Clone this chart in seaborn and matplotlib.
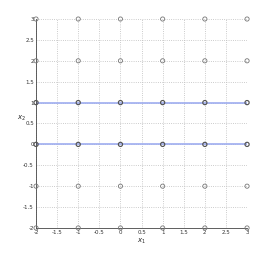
import numpy as np
import pandas as pd
import matplotlib
matplotlib.use("Agg")
import matplotlib.pyplot as plt
import seaborn as sns

# grid of sample points
x_vals = [-2, -1, 0, 1, 2, 3]
y_vals = [-2, -1, 0, 1, 2, 3]
# horizontal lines
line_levels = [0, 1]
line_x = [-2, 3]

xx, yy = np.meshgrid(x_vals, y_vals)
pts = pd.DataFrame({"x1": xx.ravel(), "x2": yy.ravel()})
pts["on_line"] = pts["x2"].isin(line_levels)

sns.set_style("white")
plt.rcParams['font.family'] = ['DejaVu Sans']

fig = plt.figure(figsize=(2.73, 2.57), dpi=100)
ax = fig.add_axes([0.132, 0.113, 0.773, 0.813])

for lvl in line_levels:
    df = pd.DataFrame({"x1": line_x, "x2": [lvl, lvl]})
    sns.lineplot(data=df, x="x1", y="x2", ax=ax, color="#9eadf0",
                 linewidth=1.2, zorder=2)

sns.scatterplot(data=pts[~pts["on_line"]], x="x1", y="x2", ax=ax,
                marker="o", s=9, facecolor="none", edgecolor="#777777",
                linewidth=0.6, zorder=3, clip_on=False)
sns.scatterplot(data=pts[pts["on_line"]], x="x1", y="x2", ax=ax,
                marker="o", s=9, facecolor="none", edgecolor="#555555",
                linewidth=0.85, zorder=3, clip_on=False)

ax.set_xlim(-2, 3)
ax.set_ylim(-2, 3)
ax.set_xticks(np.arange(-2, 3.01, 0.5))
ax.set_yticks(np.arange(-2, 3.01, 0.5))
ax.set_xticklabels(["-2", "-1.5", "-1", "-0.5", "0", "0.5", "1", "1.5", "2", "2.5", "3"])
ax.set_yticklabels(["-2", "-1.5", "-1", "-0.5", "0", "0.5", "1", "1.5", "2", "2.5", "3"])
ax.grid(True, linestyle=":", color="#bbbbbb", linewidth=0.6)
ax.tick_params(labelsize=4, direction="in", length=2, width=0.5, pad=1.5,
               colors="#333333")
for s in ["top", "right"]:
    ax.spines[s].set_visible(False)
for s in ["left", "bottom"]:
    ax.spines[s].set_linewidth(0.6)
    ax.spines[s].set_color("#444444")

ax.set_xlabel("$x_1$", fontsize=5, labelpad=1)
ax.set_ylabel("$x_2$", fontsize=5, labelpad=1, rotation=0)

fig.savefig("out.png", dpi=100)
